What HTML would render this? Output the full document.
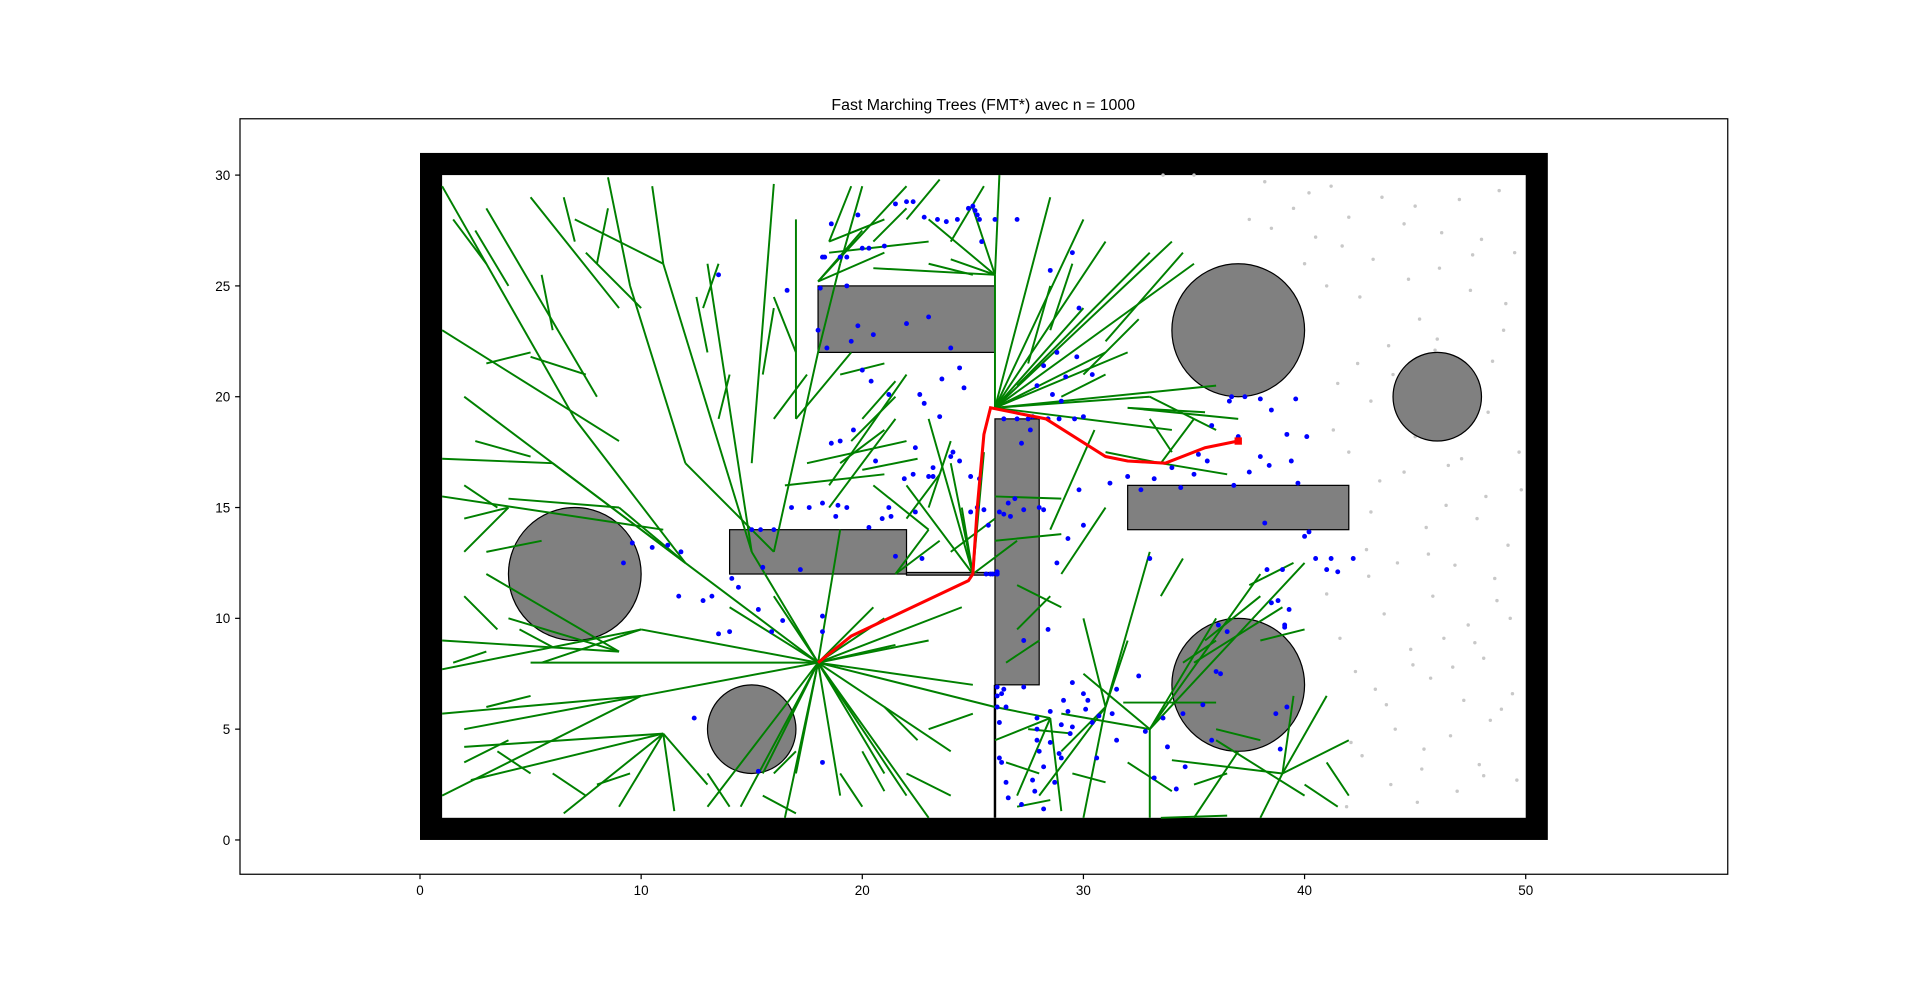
<!DOCTYPE html>
<html><head><meta charset="utf-8"><style>
html,body{margin:0;padding:0;background:#fff;width:1920px;height:982px;overflow:hidden}
svg{display:block;font-family:"Liberation Sans","DejaVu Sans",sans-serif}
</style></head><body>
<svg id="chart" width="1920" height="982" viewBox="0 0 1568 802" preserveAspectRatio="none" xmlns="http://www.w3.org/2000/svg">
<text x="803" y="90" text-anchor="middle" font-size="13">Fast Marching Trees (FMT*) avec n = 1000</text>
<rect x="196" y="97" width="1215" height="617" fill="#fff" stroke="#000" stroke-width="1"/>
<g id="world"></g>
<g id="axes"></g>
</svg>
<script>
const xTicks=[0,10,20,30,40,50];
const yTicks=[0,5,10,15,20,25,30];
const rects=[[18,22,8,3],[14,12,8,2],[22,11.95,4,0.12],[26,7,2,12],[32,14,10,2]];
const circles=[[7,12,3],[15,5,2],[37,23,3],[46,20,2],[37,7,3]];
const pathX=[18,19.5,24.8,25,25.2,25.5,25.8,28.3,31,32,33.7,35.5,37];
const pathY=[8,9.2,11.7,12,15,18.3,19.5,19,17.3,17.1,17,17.7,18];
const edges=[
[18,8,10,9.5],[18,8,5,8],[18,8,10,6.5],[18,8,14.5,1.5],[18,8,16.5,1],[18,8,17,3],[18,8,19,2],[18,8,21,3],[18,8,22,2],[18,8,23,1],[18,8,24,4],[18,8,26,6],[18,8,25,7],[18,8,23,9],[18,8,21,10],[18,8,14,10.5],[18,8,12,12.5],[18,8,16,11],[18,8,15,13],[18,8,19,14],[18,8,20.5,10.5],[18,8,24.5,10.5],[18,8,21.5,8.8],[18,8,13,1.5],[18,8,15.5,3],
[12,12.5,7,19],[12,12.5,2,20],[7,19,1,29.5],[8,20,3,28.5],[9,18,1,23],[12,12.5,6,17],[6,17,1,17.2],[11,14,1,15.5],[12,12.5,9,15],[9,15,4,15.4],[4,15,2,14.5],[4,15,2,13],
[15,13,11,26],[11,26,7,28],[15,13,13,26],[16,13,18,22],[17,19,17,28],[15,17,16,29.6],[18.5,16,22,21],[17.5,17,22,18],[16.5,16,21,16.5],[16,13,12,17],[12,17,9.5,25],[9.5,25,8.5,29.9],[9,24,5,29],[17,19,19.5,22],[18.5,15,21.5,19],[10,24,7.5,26.5],[11,26,10.5,29.5],[18,22,19,26],[19,26,20,29.5],
[26,25.5,23,28],[26,25.5,24,26.2],[26,25.5,26.2,30],[26,25.5,25,28.5],[26,25.5,20.5,25.8],[26,19.5,26,25.5],[26,19.5,28.5,29],[26,19.5,30,28],[26,19.5,31,27],[26,19.5,34,27],[26,19.5,35,26],[26,19.5,31,22],[26,19.5,33,20],[26,19.5,36,20.5],[26,19.5,32,22],[26,19.5,34,18.5],[26,19.5,30,24],
[18,25.2,20,27.5],[18,25.2,22,29.5],[18,25.2,21,26.5],[18.5,27,19.5,29.5],[18.5,27,21,28],[18.5,26.5,23,27],
[25,12,23,19],[25,12,24,17],[25,12,22,16],[25,12,25.5,17.5],[25,12,24.5,15],[26,15.5,29,15.4],[26,13.5,29,13.8],[28.5,14,30.5,18.5],[29,12,31,15],[23,14,20.5,16],[23,14,21.5,12],[25,12,27,13.5],
[31,6,28,2],[31,6,30,1],[31,6,29,4],[31,6,32,9],[31,6,33,13],[31,6,30,10],[33,5,36,10],[33,5,38,12],[33,5,40,12.5],[33,5,29,5.7],[33,5,30,7.5],[33,5,33,1],[39,3,42,4.5],[39,3,41,6.5],[39,3,38,1],[39,3,34,3.6],[39,3,39.5,6.5],[28.5,5.5,26,6],[28.5,5.5,26,4.5],[28.5,5.5,27,2],[28.5,5.5,29,1.3],[37,4,35,1],[33.5,1,36.5,1.1],[35,8,39,10.5],[35.5,9,38,11],[36,4.5,40,2],[31.8,6.2,36,6.2],
[10,9.5,5.5,8],[10,9.5,1,7.7],[9,8.5,1,9],[9,8.5,3,12],[9,8.5,4,10],[10,6.5,1,5.7],[10,6.5,2,5],[11,4.8,2,4.2],[11,4.8,2.3,2.7],[11,4.8,9,1.5],[11,4.8,6.5,1.2],[11,4.8,13,2.5],[10,6.5,1,2],[11,4.8,11.5,1.3],
[31,17.5,33.5,17],[33.5,17,36.5,16.5],[33.5,17,35,19],[34,17.5,33,19],[32,19.5,35.5,19.3],[32,19.5,37,19],[27,20.5,33,26.5],[33,20,36,18.5],
[3,26,1.5,28],[4,25,2.5,27.5],[5,22,3,21.5],[6,23,5.5,25.5],[7.5,21,5,21.8],[8,26,8.5,28.5],[7,27,6.5,29],[13,22,12.5,24.5],[14,21,13.5,19],[12.8,24,13.5,26],[15.5,21,16,24],[16,19,17.5,21],[19,17,21,18.5],[20,16.7,22.5,17.2],[19.5,18,21.5,20],[17,22,16,24.5],[19,21,21,21.5],[20,19,21.5,20.7],
[2.5,18,5,17.3],[2,16,3.5,15],[3,13,5.5,13.5],[2,11,3.5,9.5],[1.5,8,3,8.5],[4.5,9.5,6,8.7],[3,6,5,6.5],[2,3.5,4,4.5],[3.5,4,5,3],[6,3,7.5,2],[8,2.5,9.5,3],[13,3,14,1.5],[15.5,2,17,1.2],[16,3,17,4],[19,3,20,1.5],[20,4,21,2.2],[22,3,24,2],[23,5,25,5.7],[21,6,22.5,4.5],
[26.5,3.5,28,3],[27,1.5,28.5,1.8],[27.5,5,29.5,4.8],[29.5,3,31,2.6],[32,3.5,34,2.2],[35,2.5,36.5,3],[40,2.5,41.5,1.5],[41,3.5,42,2],[36,5,38,4.5],[38,9,40,9.5],[37.5,11.5,39.5,12.5],[34.5,8,36,9],[33.5,11,34.5,12.7],
[29,20,31,21],[30,21,32.5,23.5],[31,22.5,34.5,26.5],[28.5,23,29.5,26],[27.5,21.5,28.5,25],[24,27,25.5,29.5],[23,26,25,25.5],[22,28,23.5,29.8],[20.5,27,22,28.5],
[22,14.5,23.5,16.5],[23,15,24,18],[24,13,26,14.5],[21.5,12,23.5,13.5],[27,11.5,29,10.5],[27,9.5,28.5,11],[26.5,8,28,9]
];
const blueX=[18.2,18.3,18.6,19,19.3,19.8,20,20.3,21,21.5,22,22.3,22.8,23.4,23.8,24.3,25.3,26,27,28.5,29.5,29.8,29.7,28.8,28.2,28.6,27.9,29.2,29,27.7,18.1,18,18.4,19.3,20,20.4,21.2,22.6,23.5,24.1,23,22.3,19.6,19,18.6,18.9,21.2,20.9,15,15.4,16,16.8,17.6,18.8,19.3,20.3,21.3,22.4,23.2,24.4,24.9,25.2,25.5,25.8,26.4,27,27.5,28.2,28.8,29.3,29.8,30,31.2,32,32.6,33.2,34,35,35.6,36.6,37,37.3,38,38.5,39.4,39.7,40,38.3,39,40.5,41.2,42.2,38.5,38.8,39.1,36.1,35.4,34.5,33.6,31.3,30.7,30.2,30,29.5,29,28.5,28.2,27.8,27.3,26.5,26.1,26.2,26.3,26.5,27.2,28.2,28.7,29,29.3,30.4,31.5,33.2,34.2,35.8,36,36.2,38.7,38.9,39.2,12.4,11.8,11.2,10.5,9.6,9.2,11.7,12.8,13.2,14.4,15.3,15.9,14.1,15.5,13.5,16.6,19.8,20.6,21.9,22.7,21.5,17.2,13.5,14,15.3,16.4,
18.2,18.2,18.2,18.2,19.5,20.5,22,23,24,24.8,25,25.1,25.2,25.4,25.6,25.9,26.1,26.1,26.1,26.1,26.1,26.1,27.9,27.9,27.9,28,28,26.6,26.9,27.6,27.2,28.4,28.9,29.6,30,30.4,24.6,24.4,23.6,22.8,22.4,24,23.2,24.9,25.3,25.7,26.2,26.4,26.7,27.3,28.5,29.1,29.4,30.6,31.5,32.5,32.8,33.8,34.6,36.8,37.5,38,38.4,39.2,40.1,39.6,36.7,35.8,35.2,34.4,38.2,40.2,41,41.5,39.3,39.1,36.5,33,28.4,27.3,26.4,26.3,26.2,26.6,27.7,28.9,29.5,30.1];
const blueY=[26.3,26.3,27.8,26.3,26.3,28.2,26.7,26.7,26.8,28.7,28.8,28.8,28.1,28,27.9,28,28,28,28,25.7,26.5,24,21.8,22,21.4,20.1,20.5,20.9,19.8,19.1,24.9,23,22.2,25,21.2,20.7,20.1,20.1,19.1,17.5,16.4,16.5,18.5,18,17.9,15.1,15,14.5,14,14,14,15,15,14.6,15,14.1,14.6,14.8,16.4,17.1,14.8,15,14.9,12,19,19,19,14.9,12.5,13.6,15.8,14.2,16.1,16.4,15.8,16.3,16.8,16.5,17.1,19.8,18.2,20,19.9,19.4,17.1,16.1,13.7,12.2,12.2,12.7,12.7,12.7,10.7,10.8,9.6,9.7,6.1,5.7,5.5,5.7,5.6,6.3,6.6,7.1,5.2,4.4,3.3,2.2,6.9,6,6.9,5.3,3.5,2.6,1.6,1.4,2.6,3.7,5.8,5.3,4.5,2.8,2.3,4.5,7.6,7.5,5.7,4.1,6,5.5,13,13.3,13.2,13.4,12.5,11,10.8,11,11.4,10.4,9.4,11.8,12.3,25.5,24.8,23.2,17.1,16.3,12.7,12.8,12.2,9.3,9.4,3.1,9.9,15.2,9.4,10.1,3.5,
22.5,22.8,23.3,23.6,22.2,28.5,28.6,28.4,28.2,27,12,12,12,12.1,12,12,6.5,6,5.5,5,4.5,4,15,15.2,15.4,18.5,17.9,19,19,19,19.1,21,20.4,21.3,20.8,19.7,17.7,17.3,16.8,16.4,16.3,14.2,14.8,14.7,14.6,14.9,5.8,6.3,4.8,3.7,6.8,7.4,4.9,4.2,3.3,16,16.6,17.3,16.9,18.3,18.2,19.9,20,18.7,17.4,15.9,14.3,13.9,12.2,12.1,10.4,9.7,9.4,12.7,9.5,9,6.8,6.6,3.7,1.9,2.7,3.9,5.1,5.9,7.7,7.2,8.4,10.2];
const grayX=[37.5,38.5,39.5,40.5,41.2,42,43.5,44.5,45,46.2,47,48,48.8,49.5,40,41,42.5,43.8,45.2,47.5,49,44,46,48.5,41.5,43,45,47,49.7,42,44.5,46.5,48.2,43,45.5,47.8,49.2,42.8,44.2,46.8,48.6,41,43.6,45.8,47.4,49.3,44.8,46.3,48.1,42.3,43.2,45.7,47.2,48.9,44.1,46.6,48.4,42.6,45.3,47.9,49.6,43.9,41.9,46.9,33.6,35,38.2,45.1,
40.2,41.7,43.1,44.7,46.1,47.6,49.1,42.4,45.9,48.3,41.3,44.3,47.1,49.8,43.4,46.4,42.9,45.6,48.7,41.6,44.9,47.7,43.7,46.7,49.4,42.1,45.4,48.1];
const grayY=[28,27.6,28.5,27.2,29.5,28.1,29,27.8,28.6,27.4,28.9,27.1,29.3,26.5,26,25,24.5,22.3,23.5,24.8,23,21,22.6,21.6,20.6,19.8,18.2,18.8,17.5,17.5,16.6,16.9,15.5,14.8,14.1,14.5,13.3,13.1,12.5,12.4,11.8,11.1,10.2,11,9.7,10,8.6,9.1,8.2,7.6,6.8,7.3,6.3,5.9,5,4.7,5.4,3.8,3.2,3.4,2.7,2.5,1.5,2.2,30,30,29.7,1.7,
29.2,26.8,26.2,25.3,25.8,26.4,24.2,21.5,22.1,19.3,18.5,19.5,17.2,15.8,16.2,15.1,11.9,12.9,10.8,9.1,7.9,8.9,6.1,7.8,6.6,4.4,4.1,2.9];

const X=v=>343+v*18.06, Y=v=>686-v*18.1;
const NS="http://www.w3.org/2000/svg";
const W=document.getElementById('world'), A=document.getElementById('axes');
function mk(tag,parent,attrs){const e=document.createElementNS(NS,tag);for(const k in attrs)e.setAttribute(k,attrs[k]);parent.appendChild(e);return e;}
let o=mk('rect',W,{x:X(0),y:Y(31),width:X(51)-X(0),height:Y(0)-Y(31),fill:'#000'});


o=mk('rect',W,{x:X(1),y:Y(30),width:X(50)-X(1),height:Y(1)-Y(30),fill:'#fff'});


for(let i=0;i<grayX.length;i++){const c=mk('circle',W,{cx:X(grayX[i]),cy:Y(grayY[i]),r:1.4,fill:'#c8c8c8'});

}
rects.forEach(r=>{const e=mk('rect',W,{x:X(r[0]),y:Y(r[1]+r[3]),width:X(r[0]+r[2])-X(r[0]),height:Y(r[1])-Y(r[1]+r[3]),fill:'#808080',stroke:'#000','stroke-width':1});

});
o=mk('line',W,{x1:X(26),y1:Y(1),x2:X(26),y2:Y(7),stroke:'#000','stroke-width':2});


circles.forEach(c=>{const e=mk('ellipse',W,{cx:X(c[0]),cy:Y(c[1]),rx:c[2]*18.06,ry:c[2]*18.1,fill:'#808080',stroke:'#000','stroke-width':1});

});
edges.forEach(d=>{const e=mk('line',W,{x1:X(d[0]),y1:Y(d[1]),x2:X(d[2]),y2:Y(d[3]),stroke:'#008000','stroke-width':1.6});

});
for(let i=0;i<blueX.length;i++){const c=mk('circle',W,{cx:X(blueX[i]),cy:Y(blueY[i]),r:2,fill:'#0000ff'});

}
o=mk('polyline',W,{points:pathX.map((x,i)=>X(x)+','+Y(pathY[i])).join(' '),fill:'none',stroke:'#ff0000','stroke-width':2.5});


o=mk('rect',W,{x:X(37)-3,y:Y(18)-3,width:6,height:6,fill:'#ff0000'});


xTicks.forEach(t=>{const l=mk('line',A,{x1:X(t),y1:714,x2:X(t),y2:718,stroke:'#000'});


const s=mk('text',A,{x:X(t),y:731,'text-anchor':'middle','font-size':11});s.textContent=t;

});
yTicks.forEach(t=>{const l=mk('line',A,{x1:192,y1:Y(t),x2:196,y2:Y(t),stroke:'#000'});


const s=mk('text',A,{x:188,y:Y(t)+4,'text-anchor':'end','font-size':11});s.textContent=t;

});
</script>
</body></html>
